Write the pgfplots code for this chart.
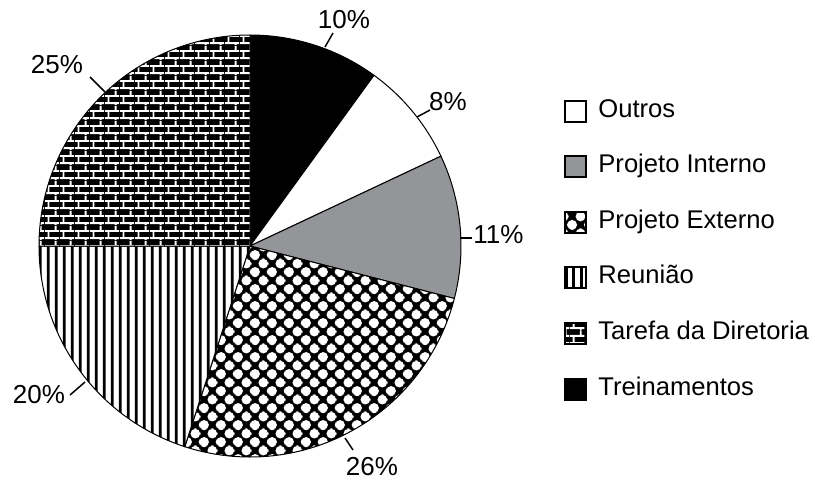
\documentclass[border=0pt]{standalone}
\usepackage{pgfplots}
\pgfplotsset{compat=1.18}
\usepackage{pgfplotstable}
\usetikzlibrary{patterns}
\usepackage{fontspec}
\setmainfont{Liberation Sans}

\definecolor{piegray}{RGB}{147,149,152}

% form-only patterns, laid over a solid fill so tile seams do not show
% staggered dots (period 8.35pt), with wrapped copies at the tile edges
\pgfdeclarepatternformonly{pdots}{\pgfpointorigin}{\pgfpoint{8.35pt}{8.35pt}}{\pgfpoint{8.35pt}{8.35pt}}{
  \pgfpathcircle{\pgfpoint{2.0875pt}{2.0875pt}}{2.45pt}
  \pgfpathcircle{\pgfpoint{10.4375pt}{2.0875pt}}{2.45pt}
  \pgfpathcircle{\pgfpoint{2.0875pt}{10.4375pt}}{2.45pt}
  \pgfpathcircle{\pgfpoint{10.4375pt}{10.4375pt}}{2.45pt}
  \pgfpathcircle{\pgfpoint{6.2625pt}{6.2625pt}}{2.45pt}
  \pgfpathcircle{\pgfpoint{-2.0875pt}{6.2625pt}}{2.45pt}
  \pgfpathcircle{\pgfpoint{6.2625pt}{-2.0875pt}}{2.45pt}
  \pgfpathcircle{\pgfpoint{-2.0875pt}{-2.0875pt}}{2.45pt}
  \pgfusepath{fill}
}
% mortar of bricks 7.5pt x 3.75pt
\pgfdeclarepatternformonly{pbricks}{\pgfpointorigin}{\pgfpoint{7.5pt}{7.5pt}}{\pgfpoint{7.5pt}{7.5pt}}{
  \pgfpathrectangle{\pgfpoint{0pt}{0.5pt}}{\pgfpoint{7.5pt}{1pt}}
  \pgfpathrectangle{\pgfpoint{0pt}{4.25pt}}{\pgfpoint{7.5pt}{1pt}}
  \pgfpathrectangle{\pgfpoint{1.375pt}{1.5pt}}{\pgfpoint{1pt}{2.75pt}}
  \pgfpathrectangle{\pgfpoint{5.125pt}{5.25pt}}{\pgfpoint{1pt}{2.25pt}}
  \pgfpathrectangle{\pgfpoint{5.125pt}{0pt}}{\pgfpoint{1pt}{0.5pt}}
  \pgfusepath{fill}
}
% vertical stripes (period 3.75pt), tall tile
\pgfdeclarepatternformonly{pvlines}{\pgfpointorigin}{\pgfpoint{3.75pt}{240pt}}{\pgfpoint{3.75pt}{240pt}}{
  \pgfpathrectangle{\pgfpoint{1pt}{0pt}}{\pgfpoint{1.5pt}{240pt}}
  \pgfusepath{fill}
}

\tikzset{
  sl-black/.style={fill=black},
  sl-white/.style={fill=white},
  sl-gray/.style={fill=piegray},
  sl-dots/.style={preaction={fill=black}, pattern=pdots, pattern color=white},
  sl-lines/.style={preaction={fill=white}, pattern=pvlines, pattern color=black},
  sl-bricks/.style={preaction={fill=black}, pattern=pbricks, pattern color=white},
  lab/.style={font=\fontsize{13}{15.6}\selectfont, inner sep=0pt, anchor=base},
  leg/.style={font=\fontsize{12.8}{15.4}\selectfont, inner sep=0pt, anchor=base west},
}

% clockwise from 12 o'clock
\pgfplotstableread[col sep=comma]{
name,value,style
Treinamentos,10,sl-black
Outros,8,sl-white
Projeto Interno,11,sl-gray
Projeto Externo,26,sl-dots
Reunião,20,sl-lines
Tarefa da Diretoria,25,sl-bricks
}\piedata

\begin{document}
\begin{tikzpicture}
\begin{axis}[
  width=407.5pt, height=239.5pt, scale only axis,
  xmin=0, xmax=815, ymin=0, ymax=479, y dir=reverse,
  hide axis, clip=false,
]
\path (axis cs:0,0) rectangle (axis cs:815,479);

\def\startang{90}
\pgfplotsforeachungrouped \i in {0,...,5}{%
  \pgfplotstablegetelem{\i}{value}\of\piedata
  \let\val\pgfplotsretval
  \pgfplotstablegetelem{\i}{style}\of\piedata
  \let\sty\pgfplotsretval
  \pgfmathsetmacro\endang{\startang-3.6*\val}%
  \edef\doslice{\noexpand\filldraw[\sty, draw=black, line width=0.5pt]
    (axis cs:250,246) -- ++(\startang:105.5pt)
    arc[start angle=\startang, end angle=\endang, radius=105.5pt] -- cycle;}%
  \doslice
  \let\startang\endang
}

% percentage labels
\draw[line width=0.75pt] (axis cs:325,47) -- (axis cs:333,33);
\node[lab] at (axis cs:344,28) {10\%};
\draw[line width=0.75pt] (axis cs:417,117) -- (axis cs:430,110);
\node[lab] at (axis cs:448,110) {8\%};
\draw[line width=0.75pt] (axis cs:460,238) -- (axis cs:472,238);
\node[lab, anchor=base west] at (axis cs:473,243) {11\%};
\draw[line width=0.75pt] (axis cs:345,438) -- (axis cs:353,450);
\node[lab] at (axis cs:372,475) {26\%};
\draw[line width=0.75pt] (axis cs:70,395) -- (axis cs:85,382);
\node[lab] at (axis cs:39,403) {20\%};
\draw[line width=0.75pt] (axis cs:90,77) -- (axis cs:105,92);
\node[lab] at (axis cs:57,73) {25\%};

% legend
\draw[sl-white, line width=1pt] (axis cs:565,100.5) rectangle (axis cs:586,121.5);
\node[leg] at (axis cs:598,117) {Outros};
\draw[sl-gray, line width=1pt] (axis cs:565,156.1) rectangle (axis cs:586,177.1);
\node[leg] at (axis cs:598,172.6) {Projeto Interno};
\draw[sl-dots, line width=1pt] (axis cs:565,211.7) rectangle (axis cs:586,232.7);
\node[leg] at (axis cs:598,228.2) {Projeto Externo};
\draw[sl-lines, line width=1pt] (axis cs:565,267.3) rectangle (axis cs:586,288.3);
\node[leg] at (axis cs:598,283.8) {Reunião};
\draw[sl-bricks, line width=1pt] (axis cs:565,322.9) rectangle (axis cs:586,343.9);
\node[leg] at (axis cs:598,339.4) {Tarefa da Diretoria};
\draw[sl-black, line width=1pt] (axis cs:565,378.5) rectangle (axis cs:586,399.5);
\node[leg] at (axis cs:598,395) {Treinamentos};
\end{axis}
\end{tikzpicture}
\end{document}
